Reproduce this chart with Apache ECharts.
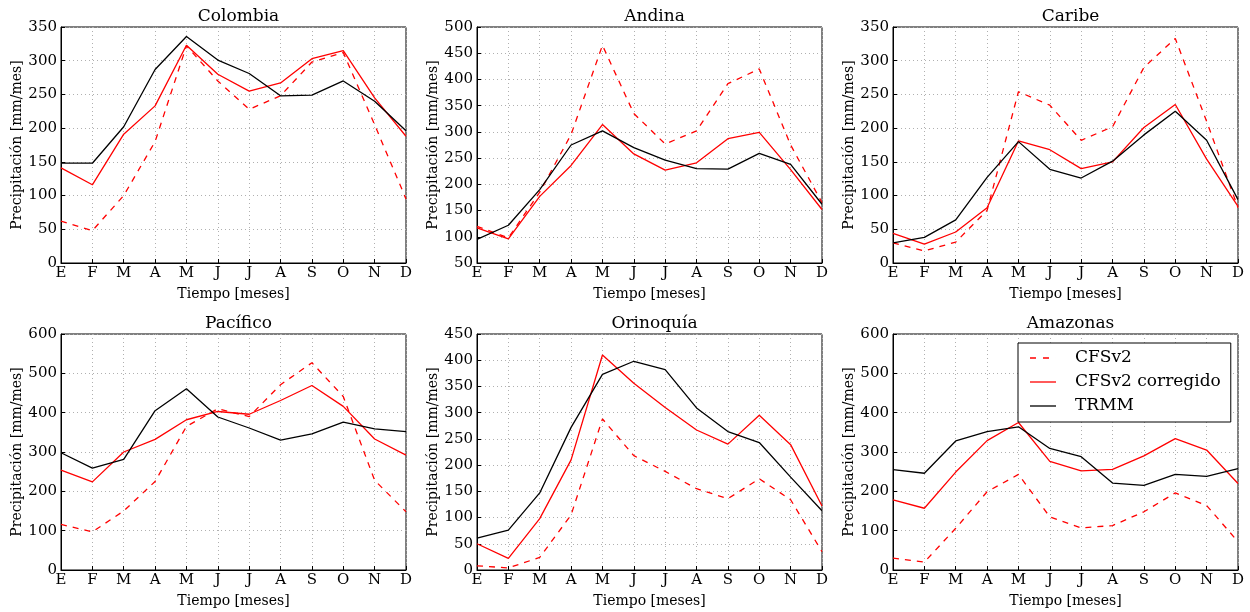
<!DOCTYPE html>
<html>
<head>
<meta charset="utf-8">
<script src="https://cdn.jsdelivr.net/npm/echarts@6/dist/echarts.min.js"></script>
<style>
  html, body { margin: 0; padding: 0; background: #fff; }
  #chart { width: 1250px; height: 612px; }
</style>
</head>
<body>
<div id="chart"></div>
<script>
var meses = ['E', 'F', 'M', 'A', 'M', 'J', 'J', 'A', 'S', 'O', 'N', 'D'];
var regiones = ['Colombia', 'Andina', 'Caribe', 'Pacífico', 'Orinoquía', 'Amazonas'];

// CFSv2 sin corregir
var colombiaCfs = [62, 48, 100, 180, 322, 270, 228, 248, 298, 312, 205, 95];
var andinaCfs = [120, 98, 185, 295, 465, 335, 277, 302, 392, 420, 275, 165];
var caribeCfs = [30, 18, 31, 78, 254, 234, 182, 202, 290, 333, 210, 82];
var pacificoCfs = [116, 97, 150, 225, 365, 410, 390, 471, 527, 441, 228, 148];
var orinoquiaCfs = [8, 4, 24, 105, 288, 218, 188, 155, 136, 174, 134, 35];
var amazonasCfs = [30, 20, 106, 199, 243, 135, 107, 113, 148, 196, 164, 72];

// CFSv2 corregido
var colombiaCorr = [141, 116, 191, 233, 323, 280, 255, 267, 303, 315, 245, 188];
var andinaCorr = [117, 96, 177, 236, 314, 258, 227, 241, 287, 299, 228, 152];
var caribeCorr = [44, 28, 46, 82, 181, 168, 140, 150, 201, 235, 154, 84];
var pacificoCorr = [254, 224, 300, 332, 382, 403, 396, 431, 469, 416, 333, 292];
var orinoquiaCorr = [50, 22, 98, 210, 410, 356, 310, 267, 240, 295, 239, 122];
var amazonasCorr = [178, 157, 249, 329, 375, 276, 252, 256, 290, 334, 305, 220];

// TRMM
var colombiaTrmm = [148, 148, 202, 287, 336, 301, 281, 248, 249, 270, 240, 196];
var andinaTrmm = [95, 122, 190, 275, 302, 270, 246, 230, 229, 259, 238, 162];
var caribeTrmm = [30, 38, 64, 127, 180, 139, 126, 151, 190, 225, 182, 94];
var pacificoTrmm = [298, 259, 281, 405, 461, 389, 361, 330, 346, 376, 359, 352];
var orinoquiaTrmm = [61, 76, 147, 272, 373, 398, 382, 309, 264, 243, 177, 113];
var amazonasTrmm = [255, 246, 328, 352, 364, 309, 288, 221, 215, 243, 238, 258];

// ejes y: min, max, intervalo
var ejeMin = [0, 50, 0, 0, 0, 0];
var ejeMax = [350, 500, 350, 600, 450, 600];
var ejeInt = [50, 50, 50, 100, 50, 100];

var cfs = [colombiaCfs, andinaCfs, caribeCfs, pacificoCfs, orinoquiaCfs, amazonasCfs];
var corr = [colombiaCorr, andinaCorr, caribeCorr, pacificoCorr, orinoquiaCorr, amazonasCorr];
var trmm = [colombiaTrmm, andinaTrmm, caribeTrmm, pacificoTrmm, orinoquiaTrmm, amazonasTrmm];

var serif = 'DejaVu Serif';
var lefts = [61, 477, 893];
var tops = [27, 334];
var W = 345, H = 236;

var grids = [], xAxes = [], yAxes = [], titles = [], series = [];
var dotted = { show: true, lineStyle: { color: '#b0b0b0', type: [1, 3], width: 1 } };

for (var i = 0; i < 6; i++) {
  var l = lefts[i % 3], t = tops[Math.floor(i / 3)];
  grids.push({ left: l, top: t, width: W, height: H, show: true, borderColor: '#000', borderWidth: 1, backgroundColor: 'transparent' });
  titles.push({
    text: regiones[i], left: l + W / 2, top: t - 24, textAlign: 'center',
    textStyle: { fontFamily: serif, fontSize: 17, fontWeight: 'normal', color: '#000' }
  });
  xAxes.push({
    type: 'category', gridIndex: i, data: meses, boundaryGap: false,
    name: 'Tiempo [meses]', nameLocation: 'middle', nameGap: 24,
    nameTextStyle: { fontFamily: serif, fontSize: 14, color: '#000' },
    axisLine: { show: true, lineStyle: { color: '#000' } },
    axisTick: { show: true, inside: true, length: 4, alignWithLabel: true, lineStyle: { color: '#000' } },
    axisLabel: { fontFamily: serif, fontSize: 15, color: '#000', margin: 3, interval: 0 },
    splitLine: dotted
  });
  yAxes.push({
    type: 'value', gridIndex: i, min: ejeMin[i], max: ejeMax[i], interval: ejeInt[i],
    name: 'Precipitación [mm/mes]', nameLocation: 'middle', nameGap: 36,
    nameTextStyle: { fontFamily: serif, fontSize: 14, color: '#000' },
    axisLine: { show: true, lineStyle: { color: '#000' } },
    axisTick: { show: true, inside: true, length: 4, lineStyle: { color: '#000' } },
    axisLabel: { fontFamily: serif, fontSize: 15, color: '#000', margin: 4 },
    splitLine: dotted
  });
  series.push({
    name: 'CFSv2', type: 'line', xAxisIndex: i, yAxisIndex: i, data: cfs[i],
    symbol: 'none', color: '#ff0000', lineStyle: { color: '#ff0000', width: 1.3, type: [6, 6] }
  });
  series.push({
    name: 'CFSv2 corregido', type: 'line', xAxisIndex: i, yAxisIndex: i, data: corr[i],
    symbol: 'none', color: '#ff0000', lineStyle: { color: '#ff0000', width: 1.3 }
  });
  series.push({
    name: 'TRMM', type: 'line', xAxisIndex: i, yAxisIndex: i, data: trmm[i],
    symbol: 'none', color: '#000000', lineStyle: { color: '#000000', width: 1.3 }
  });
}

var myChart = echarts.init(document.getElementById('chart'));
myChart.setOption({
  animation: false,
  backgroundColor: '#fff',
  title: titles,
  legend: {
    data: [
      { name: 'CFSv2', icon: 'path://M0,0h6v1.3h-6z M13,0h6v1.3h-6z M26,0h0.01v1.3h-0.01z' },
      { name: 'CFSv2 corregido', icon: 'path://M0,0h26v1.3h-26z' },
      { name: 'TRMM', icon: 'path://M0,0h26v1.3h-26z' }
    ],
    orient: 'vertical', left: 1018, top: 343,
    backgroundColor: '#fff', borderColor: '#000', borderWidth: 1,
    padding: [5, 10, 6, 12],
    itemWidth: 26, itemHeight: 14, itemGap: 4,
    textStyle: { fontFamily: serif, fontSize: 17, lineHeight: 20, color: '#000', padding: [0, 0, 0, 14] }
  },
  grid: grids,
  xAxis: xAxes,
  yAxis: yAxes,
  series: series
});
</script>
</body>
</html>
